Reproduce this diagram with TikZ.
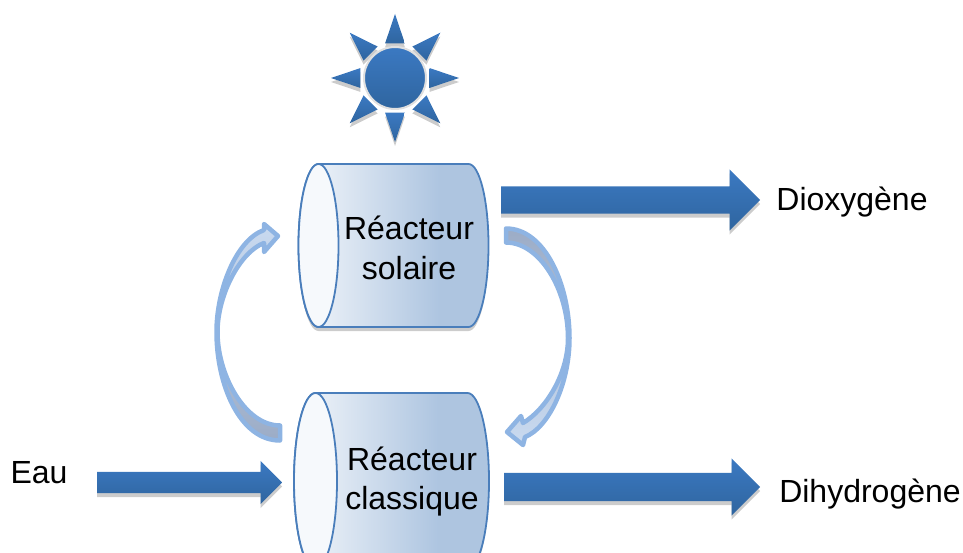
\documentclass[tikz,border=0pt]{standalone}
\usepackage{fontspec}
\setmainfont{Liberation Sans}
\usetikzlibrary{shapes.arrows,shadows}
\definecolor{bluetop}{HTML}{3B79C2}
\definecolor{bluebot}{HTML}{2F659F}
\definecolor{edgeblue}{HTML}{4A7EBB}
\definecolor{curveblue}{HTML}{8EB4E3}
\definecolor{curvelight}{HTML}{C9DAF0}
\definecolor{curvegrey}{HTML}{9CACC6}
\pgfdeclarehorizontalshading{reactorshade}{100bp}{color(0bp)=(white!88!edgeblue!50); color(25bp)=(white!88!edgeblue!50); color(62bp)=(edgeblue!45); color(100bp)=(edgeblue!45)}
\tikzset{
  lbl/.style={font=\fontsize{32}{39.5}\selectfont,align=center,inner sep=0pt},
  softshadow/.style={copy shadow={shadow xshift=0pt,shadow yshift=-4pt,draw=none,fill=black!20}},
  bigarrow/.style={single arrow,anchor=tail,inner xsep=0pt,minimum height=#1,softshadow,draw=none,
    top color=bluetop,bottom color=bluebot,single arrow head indent=0pt},
  curvearrow/.style={draw=curveblue,line width=4.5pt,line join=round},
}
\begin{document}
\begin{tikzpicture}[x=1pt,y=-1pt]
\useasboundingbox (0,0) rectangle (963,553);
\clip (0,0) rectangle (963,553);
% sun
\foreach \a in {0,45,...,315}
  \draw[softshadow,draw=none,top color=bluetop,bottom color=bluebot,shift={(395,78)}]
    (\a:64) -- (\a+16:36) -- (\a-16:36) -- cycle;
\node[circle,minimum size=62pt,inner sep=0pt,draw=black!12,line width=2pt,top color=bluetop,bottom color=bluebot] (sun) at (395,78) {};
% reactors
\foreach \cx/\cy/\rx/\ry/\rl in {318.5/245.5/20/81.5/150, 315.5/481/21.5/88/152}{
  \draw[softshadow,draw=edgeblue,line width=1.8pt,shading=reactorshade]
    (\cx,\cy-\ry) -- (\cx+\rl,\cy-\ry)
    arc[start angle=90,end angle=-90,x radius=\rx pt,y radius=\ry pt]
    -- (\cx,\cy+\ry)
    arc[start angle=270,end angle=90,x radius=\rx pt,y radius=\ry pt] -- cycle;
  \draw[draw=edgeblue,line width=1.8pt,fill=white!95!edgeblue] (\cx,\cy) ellipse[x radius=\rx pt,y radius=\ry pt];
}
\node[lbl] (solaire) at (409,248) {Réacteur\\solaire};
\node[lbl] (classique) at (412,481.5) {Réacteur\\classique};
% straight arrows
\node[bigarrow=259pt,minimum width=61pt,inner ysep=13.5pt,single arrow head extend=17pt] (outoxy) at (501,200) {};
\node[bigarrow=256pt,minimum width=57pt,inner ysep=14pt,single arrow head extend=14.5pt] (outhyd) at (504,487) {};
\node[bigarrow=185pt,minimum width=43pt,inner ysep=10.5pt,single arrow head extend=11pt] (inwater) at (97,482.5) {};
% curved arrows
\draw[curvearrow,top color=curvegrey,bottom color=curvelight]
  (506,228.5) .. controls (545,228.5) and (569.5,285) .. (569.5,338)
  .. controls (569.5,385) and (548,428) .. (525,437)
  -- (523,445) -- (507,432) -- (521,416) -- (523,423)
  .. controls (545,410) and (568,375) .. (568,338)
  .. controls (568,290) and (540,242.5) .. (506,242.5) -- cycle;
\draw[curvearrow,top color=curvelight,bottom color=curvegrey]
  (280,440.5) .. controls (240,440.5) and (216.5,385) .. (216.5,332)
  .. controls (216.5,290) and (236,240) .. (264,230)
  -- (264,224) -- (278,236) -- (264,252) -- (264,243)
  .. controls (240,252) and (217.5,295) .. (217.5,332)
  .. controls (217.5,375) and (245,425.5) .. (280,425.5) -- cycle;
% labels
\node[lbl] (eau) at (39,473) {Eau};
\node[lbl] (dioxy) at (852,202.5) {Dioxygène};
\node[lbl] (dihyd) at (870,494) {Dihydrogène};
\end{tikzpicture}
\end{document}
